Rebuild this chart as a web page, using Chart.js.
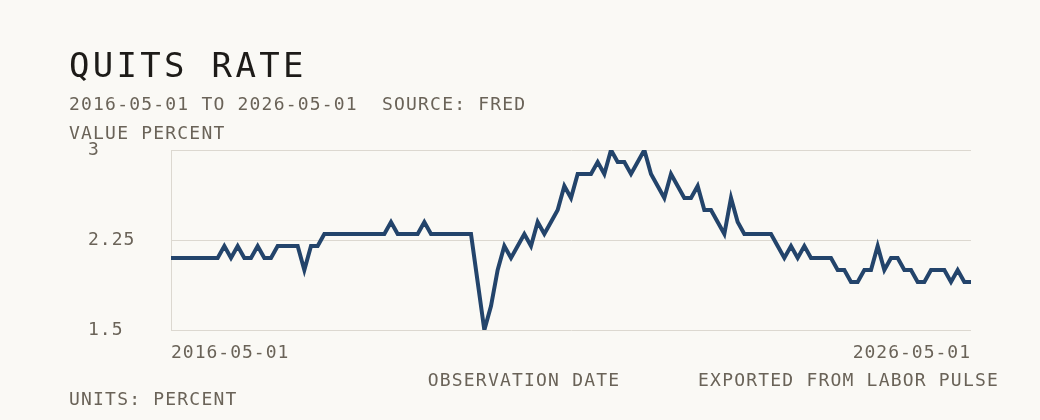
<!DOCTYPE html>
<html>
<head>
<meta charset="utf-8">
<script src="https://cdn.jsdelivr.net/npm/chart.js@4/dist/chart.umd.min.js"></script>
<style>
  html, body { margin: 0; padding: 0; background: #faf9f5; }
  #wrap { width: 1040px; height: 420px; }
</style>
</head>
<body>
<div id="wrap"><canvas id="quits_chart" width="1040" height="420"></canvas></div>
<script>
// monthly quits rate, percent, 2016-05 .. 2026-05
const startDate = '2016-05-01'
const endDate = '2026-05-01'
const quitsRate = [
  2.1, 2.1, 2.1, 2.1, 2.1, 2.1, 2.1, 2.1, 2.2, 2.1, 2.2, 2.1,
  2.1, 2.2, 2.1, 2.1, 2.2, 2.2, 2.2, 2.2, 2.0, 2.2, 2.2, 2.3,
  2.3, 2.3, 2.3, 2.3, 2.3, 2.3, 2.3, 2.3, 2.3, 2.4, 2.3, 2.3,
  2.3, 2.3, 2.4, 2.3, 2.3, 2.3, 2.3, 2.3, 2.3, 2.3, 1.9, 1.5,
  1.7, 2.0, 2.2, 2.1, 2.2, 2.3, 2.2, 2.4, 2.3, 2.4, 2.5, 2.7,
  2.6, 2.8, 2.8, 2.8, 2.9, 2.8, 3.0, 2.9, 2.9, 2.8, 2.9, 3.0,
  2.8, 2.7, 2.6, 2.8, 2.7, 2.6, 2.6, 2.7, 2.5, 2.5, 2.4, 2.3,
  2.6, 2.4, 2.3, 2.3, 2.3, 2.3, 2.3, 2.2, 2.1, 2.2, 2.1, 2.2,
  2.1, 2.1, 2.1, 2.1, 2.0, 2.0, 1.9, 1.9, 2.0, 2.0, 2.2, 2.0,
  2.1, 2.1, 2.0, 2.0, 1.9, 1.9, 2.0, 2.0, 2.0, 1.9, 2.0, 1.9,
  1.9
]
const yTicks = [1.5, 2.25, 3]
const xTickLabels = [startDate, endDate]

// one category per month
const months = []
for (let i = 0; i < quitsRate.length; i++) {
    const d = new Date(Date.UTC(2016, 4 + i, 1))
    months.push(d.toISOString().slice(0, 10))
}

const FONT = '"DejaVu Sans Mono", monospace'
const inkDark = '#1d1b18'
const inkGray = '#6a6358'
const gridColor = '#dcd8d0'
const lineColor = '#23446b'

const extraText = {
    id: 'extraText',
    beforeDraw(chart) {
        chart.ctx.letterSpacing = '1px'
    },
    afterDraw(chart) {
        const ctx = chart.ctx
        ctx.save()
        ctx.textBaseline = 'alphabetic'
        ctx.textAlign = 'left'

        ctx.fillStyle = inkDark
        ctx.font = '34px ' + FONT
        ctx.letterSpacing = '3.3px'
        ctx.fillText('QUITS RATE', 69, 77)

        ctx.fillStyle = inkGray
        ctx.font = '18px ' + FONT
        ctx.letterSpacing = '1.2px'
        ctx.fillText(startDate + ' TO ' + endDate + '  SOURCE: FRED', 69, 110)
        ctx.fillText('VALUE PERCENT', 69, 139)
        ctx.fillText('UNITS: PERCENT', 69, 405)

        ctx.textAlign = 'center'
        ctx.fillText('OBSERVATION DATE', 524, 386)
        ctx.textAlign = 'right'
        ctx.fillText('EXPORTED FROM LABOR PULSE', 999, 386)
        ctx.restore()
    }
}

function quitsChart() {
    new Chart(document.querySelector('#quits_chart'), {
        type: 'line',
        data: {
            labels: months,
            datasets: [{
                label: 'Quits rate',
                data: quitsRate,
                fill: false,
                borderColor: lineColor,
                borderWidth: 4,
                borderJoinStyle: 'miter',
                pointRadius: 0,
                tension: 0
            }]
        },
        options: {
            responsive: false,
            animation: false,
            layout: {
                autoPadding: false,
                padding: { left: 88, right: 69, top: 150, bottom: 50 }
            },
            plugins: {
                legend: { display: false },
                tooltip: { enabled: false }
            },
            scales: {
                x: {
                    grid: { display: false, drawTicks: false },
                    border: { display: false },
                    afterFit(scale) { scale.height = 40 },
                    ticks: {
                        autoSkip: false,
                        maxRotation: 0,
                        align: 'inner',
                        padding: 13,
                        color: inkGray,
                        font: { family: FONT, size: 18 },
                        callback(value, index) {
                            if (index === 0) return xTickLabels[0]
                            if (index === months.length - 1) return xTickLabels[1]
                            return null
                        }
                    }
                },
                y: {
                    min: yTicks[0],
                    max: yTicks[yTicks.length - 1],
                    afterBuildTicks(scale) {
                        scale.ticks = yTicks.map(v => ({ value: v }))
                    },
                    afterFit(scale) { scale.width = 83 },
                    grid: { color: gridColor, lineWidth: 1, drawTicks: false },
                    border: { display: true, color: gridColor, width: 1 },
                    ticks: {
                        crossAlign: 'far',
                        color: inkGray,
                        font: { family: FONT, size: 18 },
                        callback: (value) => String(value)
                    }
                }
            }
        },
        plugins: [extraText]
    })
}
quitsChart()
</script>
</body>
</html>
